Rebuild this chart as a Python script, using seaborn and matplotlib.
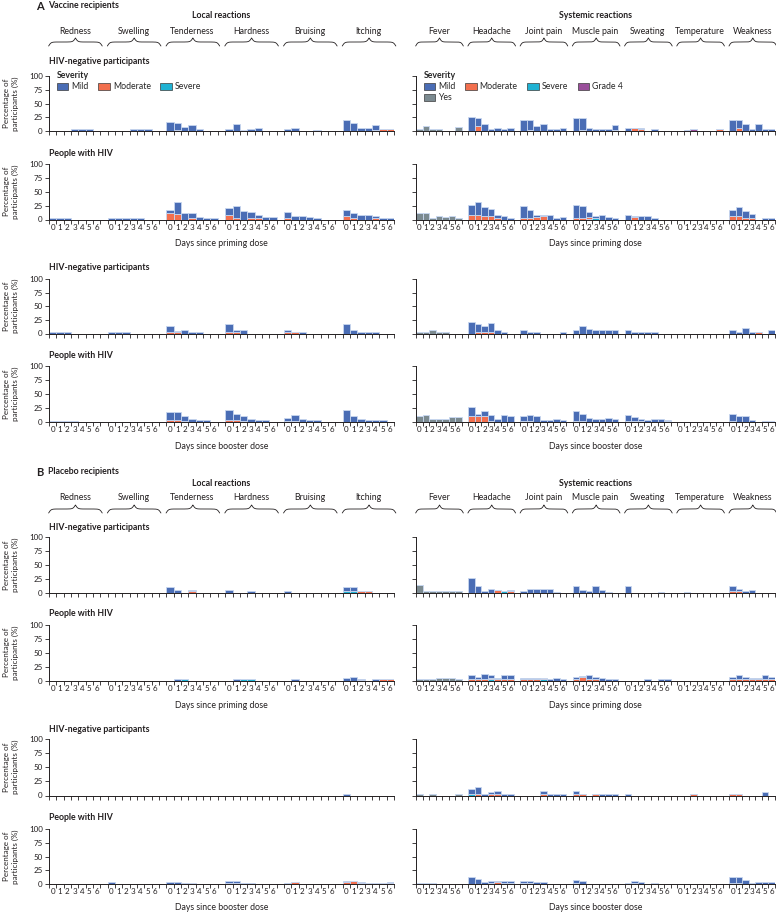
import numpy as np
import pandas as pd
import matplotlib
matplotlib.use("Agg")
import matplotlib.pyplot as plt
import seaborn as sns
from matplotlib.patches import Patch
from matplotlib.transforms import blended_transform_factory

# =========================
# DATA (percentage of participants)
# =========================

local_reactions = ["Redness", "Swelling", "Tenderness", "Hardness", "Bruising", "Itching"]
systemic_reactions = ["Fever", "Headache", "Joint pain", "Muscle pain", "Sweating", "Temperature", "Weakness"]
day_labels = ["0", "1", "2", "3", "4", "5", "6"]

# A - vaccine, HIV-negative, priming dose (totals per day, moderate part, severe / grade 4 cells)
a1_total = {
    "Redness": [0, 0, 0, 3, 3, 3, 0], "Swelling": [0, 0, 0, 3, 3, 3, 0],
    "Tenderness": [17, 14, 7, 11, 4, 0, 0], "Hardness": [3, 13, 2, 3, 6, 0, 0],
    "Bruising": [3, 6, 0, 0, 2, 0, 0], "Itching": [20, 14, 6, 6, 10, 3, 3],
    "Fever": [3, 10, 3, 3, 0, 0, 7], "Headache": [25, 24, 13, 3, 6, 3, 6],
    "Joint pain": [20, 20, 10, 13, 3, 3, 6], "Muscle pain": [24, 24, 6, 3, 3, 3, 10],
    "Sweating": [6, 6, 6, 0, 3, 0, 0], "Temperature": [0, 2, 3, 0, 0, 0, 3],
    "Weakness": [20, 20, 13, 3, 13, 3, 3],
}
a1_moderate = {
    "Tenderness": [0, 2, 0, 0, 0, 0, 0], "Hardness": [0, 0, 2, 0, 0, 0, 0],
    "Itching": [0, 0, 0, 0, 0, 3, 3], "Headache": [0, 9, 0, 0, 0, 0, 0],
    "Joint pain": [0, 2, 0, 0, 0, 0, 0], "Muscle pain": [0, 2, 0, 0, 0, 0, 2],
    "Sweating": [0, 5, 3, 0, 0, 0, 0], "Temperature": [0, 0, 0, 0, 0, 0, 3],
    "Weakness": [0, 6, 0, 0, 0, 0, 0],
}
a1_severe = {("Itching", 4): 2}
a1_grade4 = {("Temperature", 2): 3}

# A - vaccine, people with HIV, priming dose
a2_total = {
    "Redness": [2, 2, 2, 0, 0, 0, 0], "Swelling": [2, 2, 2, 2, 2, 0, 0],
    "Tenderness": [17, 32, 12, 12, 5, 3, 3], "Hardness": [21, 24, 15, 14, 9, 5, 5],
    "Bruising": [14, 7, 7, 5, 2, 0, 0], "Itching": [17, 11, 9, 9, 7, 2, 2],
    "Fever": [12, 12, 3, 6, 5, 6, 3], "Headache": [26, 31, 22, 19, 8, 7, 2],
    "Joint pain": [24, 18, 9, 9, 8, 2, 4], "Muscle pain": [26, 24, 14, 6, 9, 4, 2],
    "Sweating": [9, 6, 6, 6, 2, 0, 0], "Weakness": [17, 22, 16, 10, 0, 2, 2],
}
a2_moderate = {
    "Tenderness": [11, 10, 0, 2, 0, 0, 0], "Hardness": [9, 3, 0, 2, 2, 0, 0],
    "Bruising": [2, 0, 0, 0, 0, 0, 0], "Itching": [6, 3, 0, 0, 2, 0, 0],
    "Headache": [8, 9, 6, 6, 2, 0, 0], "Joint pain": [2, 3, 4, 6, 0, 0, 0],
    "Muscle pain": [2, 3, 3, 0, 0, 0, 0], "Sweating": [0, 4, 0, 0, 0, 0, 0],
    "Weakness": [6, 6, 3, 2, 0, 0, 0],
}
a2_severe = {("Muscle pain", 2): 1, ("Muscle pain", 3): 2}
a2_grade4 = {}

# A - vaccine, HIV-negative, booster dose
a3_total = {
    "Redness": [2, 2, 2, 0, 0, 0, 0], "Swelling": [2, 2, 2, 0, 0, 0, 0],
    "Tenderness": [14, 5, 6, 3, 3, 0, 0], "Hardness": [17, 6, 6, 0, 0, 0, 0],
    "Bruising": [6, 3, 2, 0, 0, 0, 0], "Itching": [17, 6, 3, 3, 3, 0, 0],
    "Fever": [3, 3, 6, 3, 2, 0, 0], "Headache": [21, 17, 13, 19, 6, 3, 0],
    "Joint pain": [6, 2, 2, 0, 0, 0, 2], "Muscle pain": [6, 13, 9, 6, 6, 6, 6],
    "Sweating": [6, 3, 3, 3, 3, 0, 0], "Weakness": [6, 3, 10, 3, 3, 0, 6],
}
a3_moderate = {
    "Tenderness": [2, 2, 0, 0, 0, 0, 0], "Hardness": [2, 3, 0, 0, 0, 0, 0],
    "Bruising": [2, 3, 0, 0, 0, 0, 0], "Headache": [0, 2, 2, 2, 0, 0, 0],
    "Weakness": [0, 0, 0, 0, 3, 0, 0],
}
a3_severe = {}
a3_grade4 = {}

# A - vaccine, people with HIV, booster dose
a4_total = {
    "Redness": [2, 2, 2, 2, 0, 0, 0],
    "Tenderness": [18, 18, 10, 6, 3, 3, 0], "Hardness": [21, 15, 10, 6, 3, 3, 0],
    "Bruising": [8, 12, 6, 4, 3, 0, 0], "Itching": [21, 10, 6, 4, 3, 3, 0],
    "Fever": [10, 12, 6, 6, 6, 9, 9], "Headache": [26, 15, 20, 12, 6, 12, 10],
    "Joint pain": [10, 12, 10, 4, 4, 6, 4], "Muscle pain": [20, 14, 7, 6, 6, 8, 6],
    "Sweating": [12, 9, 5, 3, 5, 5, 3], "Weakness": [14, 10, 10, 3, 0, 2, 2],
}
a4_moderate = {
    "Tenderness": [4, 3, 2, 0, 0, 0, 0], "Hardness": [4, 3, 2, 0, 0, 0, 0],
    "Bruising": [2, 2, 0, 0, 0, 0, 0], "Headache": [10, 10, 10, 2, 0, 0, 0],
    "Joint pain": [2, 2, 0, 0, 0, 0, 0], "Muscle pain": [2, 2, 0, 0, 0, 0, 0],
    "Sweating": [2, 2, 2, 0, 0, 0, 2], "Weakness": [2, 0, 0, 0, 0, 0, 2],
}
a4_severe = {}
a4_grade4 = {}

# B - placebo, HIV-negative, priming dose
b1_total = {
    "Tenderness": [10, 6, 0, 5, 0, 0, 0], "Hardness": [5, 0, 0, 3, 0, 0, 0],
    "Bruising": [3, 0, 0, 0, 0, 0, 0], "Itching": [10, 10, 3, 3, 0, 0, 0],
    "Fever": [14, 3, 3, 3, 3, 3, 3], "Headache": [27, 13, 4, 8, 5, 4, 5],
    "Joint pain": [3, 8, 8, 8, 8, 2, 0], "Muscle pain": [12, 5, 3, 12, 6, 2, 0],
    "Sweating": [12, 0, 0, 0, 0, 2, 0], "Temperature": [0, 2, 0, 0, 0, 0, 0],
    "Weakness": [12, 8, 3, 6, 0, 0, 0],
}
b1_moderate = {
    "Tenderness": [0, 0, 0, 3, 0, 0, 0], "Itching": [0, 0, 3, 3, 0, 0, 0],
    "Headache": [0, 0, 0, 0, 5, 0, 4], "Weakness": [3, 3, 0, 0, 0, 0, 0],
}
b1_severe = {("Itching", 0): 3, ("Itching", 1): 3, ("Headache", 5): 3, ("Temperature", 1): 2}
b1_grade4 = {}

# B - placebo, people with HIV, priming dose
b2_total = {
    "Tenderness": [0, 2, 2, 0, 0, 0, 0], "Hardness": [0, 2, 2, 2, 0, 0, 0],
    "Bruising": [0, 3, 0, 0, 0, 0, 0], "Itching": [5, 6, 3, 0, 2, 2, 2],
    "Fever": [2, 2, 3, 4, 4, 4, 2], "Headache": [10, 7, 12, 10, 5, 10, 10],
    "Joint pain": [5, 5, 4, 4, 3, 5, 3], "Muscle pain": [6, 8, 10, 6, 5, 3, 3],
    "Sweating": [0, 0, 0, 2, 0, 2, 2], "Weakness": [7, 9, 7, 5, 5, 9, 7],
}
b2_moderate = {
    "Itching": [0, 0, 1, 0, 0, 2, 2], "Headache": [2, 2, 2, 3, 2, 2, 2],
    "Joint pain": [2, 2, 2, 2, 0, 0, 0], "Muscle pain": [2, 6, 2, 2, 0, 0, 0],
    "Weakness": [2, 2, 2, 2, 2, 2, 3],
}
b2_severe = {("Tenderness", 2): 2, ("Hardness", 2): 2, ("Hardness", 3): 2,
             ("Headache", 3): 2, ("Joint pain", 3): 2}
b2_grade4 = {}

# B - placebo, HIV-negative, booster dose
b3_total = {
    "Itching": [3, 0, 0, 0, 0, 0, 0],
    "Fever": [2, 0, 2, 0, 0, 0, 2], "Headache": [11, 15, 3, 6, 8, 3, 3],
    "Joint pain": [0, 0, 0, 8, 3, 3, 3], "Muscle pain": [8, 2, 0, 2, 3, 3, 3],
    "Sweating": [2, 0, 0, 0, 0, 0, 0], "Temperature": [0, 0, 2, 0, 0, 0, 0],
    "Weakness": [2, 2, 0, 0, 0, 6, 0],
}
b3_moderate = {
    "Headache": [0, 2, 0, 2, 3, 0, 0], "Joint pain": [0, 0, 0, 3, 0, 0, 0],
    "Muscle pain": [3, 2, 0, 2, 0, 0, 0], "Temperature": [0, 0, 2, 0, 0, 0, 0],
    "Weakness": [2, 2, 0, 0, 0, 0, 0],
}
b3_severe = {("Headache", 0): 2}
b3_grade4 = {}

# B - placebo, people with HIV, booster dose
b4_total = {
    "Swelling": [4, 0, 0, 0, 0, 0, 0],
    "Tenderness": [3, 3, 2, 2, 0, 0, 0], "Hardness": [6, 6, 2, 2, 0, 0, 0],
    "Bruising": [2, 3, 0, 0, 0, 0, 0], "Itching": [6, 6, 3, 2, 2, 2, 4],
    "Fever": [2, 2, 2, 0, 0, 0, 0], "Headache": [12, 10, 3, 6, 5, 6, 6],
    "Joint pain": [6, 6, 3, 3, 0, 0, 0], "Muscle pain": [8, 6, 0, 0, 0, 0, 0],
    "Sweating": [2, 6, 3, 0, 2, 0, 0], "Weakness": [12, 12, 8, 2, 4, 4, 4],
}
b4_moderate = {
    "Tenderness": [0, 0, 0, 2, 0, 0, 0], "Hardness": [2, 2, 0, 0, 0, 0, 0],
    "Bruising": [0, 3, 0, 0, 0, 0, 0], "Itching": [3, 6, 1, 2, 2, 2, 2],
    "Headache": [0, 0, 0, 2, 3, 2, 2], "Joint pain": [2, 2, 0, 0, 0, 0, 0],
    "Muscle pain": [2, 0, 0, 0, 0, 0, 0], "Sweating": [2, 2, 0, 0, 2, 0, 0],
    "Weakness": [2, 2, 0, 0, 0, 0, 0],
}
b4_severe = {}
b4_grade4 = {}

# =========================
# STYLE
# =========================

sns.set_style("white")
plt.rcParams["font.family"] = ["Lato", "DejaVu Sans"]

colors = {
    "Mild": "#4a6db5",
    "Moderate": "#f26f4e",
    "Severe": "#1fb2d3",
    "Grade 4": "#9a4f9b",
    "Yes": "#7b8a90",
}
stack_order = ["Mild", "Yes", "Moderate", "Severe", "Grade 4"]
edge = "#c8d7ef"
ink = "#231f20"

W, H = 776, 914
fig = plt.figure(figsize=(W / 100, H / 100), dpi=100)


def fx(px):
    return px / W


def fy(py):
    return 1 - py / H


def make_axes(x0, x1, top, bottom):
    return fig.add_axes([fx(x0), fy(bottom), (x1 - x0) / W, (bottom - top) / H])


def draw_panel(ax, names, total, moderate, severe, grade4, show_days, show_y):
    recs = []
    for g, name in enumerate(names):
        tot = total.get(name, [0] * 7)
        mod = moderate.get(name, [0] * 7)
        for d in range(7):
            pos = g * 8 + d
            sv = severe.get((name, d), 0)
            g4 = grade4.get((name, d), 0)
            if name == "Fever":
                recs.append((pos, "Yes", tot[d]))
            else:
                recs.append((pos, "Mild", tot[d] - mod[d] - sv - g4))
                recs.append((pos, "Moderate", mod[d]))
                recs.append((pos, "Severe", sv))
                recs.append((pos, "Grade 4", g4))
    df = pd.DataFrame(recs, columns=["pos", "severity", "pct"])
    df = df[df["pct"] > 0]

    if len(df):
        sns.histplot(
            data=df, x="pos", weights="pct", hue="severity",
            hue_order=[h for h in stack_order if h in set(df["severity"])],
            palette=colors, multiple="stack", discrete=True, shrink=1,
            alpha=1, edgecolor=edge, linewidth=0.6, legend=False, ax=ax
        )

    n = len(names) * 8 - 1
    ax.set_xlim(-0.5, n - 0.5)
    ax.set_ylim(0, 100)
    ax.set_xlabel("")
    ax.set_ylabel("")

    ax.set_xticks(np.arange(-0.5, n, 1.0))
    ax.set_xticklabels([])
    centers = [g * 8 + d for g in range(len(names)) for d in range(7)]
    ax.set_xticks(centers, minor=True)
    if show_days:
        ax.set_xticklabels(day_labels * len(names), minor=True)
    else:
        ax.set_xticklabels([], minor=True)
    ax.tick_params(axis="x", which="major", bottom=True, length=3, width=0.6,
                   color=ink, direction="out")
    ax.tick_params(axis="x", which="minor", bottom=True, length=0, pad=3,
                   labelsize=5.8, labelcolor=ink)

    ax.set_yticks([0, 25, 50, 75, 100])
    if show_y:
        ax.set_yticklabels(["0", "25", "50", "75", "100"])
    else:
        ax.set_yticklabels([])
    ax.tick_params(axis="y", left=True, length=3, width=0.6, color=ink, direction="out",
                   pad=1.5, labelsize=5.8, labelcolor=ink)

    sns.despine(ax=ax)
    for side in ["left", "bottom"]:
        ax.spines[side].set_linewidth(0.7)
        ax.spines[side].set_color(ink)
    ax.patch.set_alpha(0)


def draw_brace(ax, center, half_width, y_end, y_tip):
    trans = blended_transform_factory(ax.transData, fig.transFigure)
    t = np.linspace(0, 1, 80)
    b = 22
    s = 1 / (1 + np.exp(-b * t)) + 1 / (1 + np.exp(-b * (t - 1)))
    s = (s - s[0]) / (s[-1] - s[0])
    xs = np.concatenate([center - half_width + t * half_width, center + half_width - t[::-1] * half_width])
    ys = np.concatenate([s, s[::-1]])
    yv = fy(y_end) + (fy(y_tip) - fy(y_end)) * ys
    ax.plot(xs, yv, transform=trans, clip_on=False, color=ink, lw=0.6)


def draw_headers(ax, names, title, title_y, name_y, brace_end, brace_tip):
    trans = blended_transform_factory(ax.transData, fig.transFigure)
    mid = (len(names) * 8 - 2) / 2
    ax.text(mid, fy(title_y), title, transform=trans, ha="center", va="center",
            fontsize=6.3, fontweight="bold", color=ink)
    for g, name in enumerate(names):
        ax.text(g * 8 + 3, fy(name_y), name, transform=trans, ha="center", va="center",
                fontsize=6.3, color=ink)
        draw_brace(ax, g * 8 + 3.1, 3.65, brace_end, brace_tip)


# =========================
# LAYOUT
# =========================

left_x = (49, 394)
right_x = (416, 775)

rows = [
    # data, top px, bottom px, title, title y, day labels
    ((a1_total, a1_moderate, a1_severe, a1_grade4), 76, 131, "HIV-negative participants", 61, False),
    ((a2_total, a2_moderate, a2_severe, a2_grade4), 164, 219.5, "People with HIV", 153, True),
    ((a3_total, a3_moderate, a3_severe, a3_grade4), 279, 333.5, "HIV-negative participants", 267, False),
    ((a4_total, a4_moderate, a4_severe, a4_grade4), 366, 422, "People with HIV", 355, True),
    ((b1_total, b1_moderate, b1_severe, b1_grade4), 537, 593, "HIV-negative participants", 528, False),
    ((b2_total, b2_moderate, b2_severe, b2_grade4), 624.5, 680.5, "People with HIV", 613, True),
    ((b3_total, b3_moderate, b3_severe, b3_grade4), 739, 795.5, "HIV-negative participants", 730, False),
    ((b4_total, b4_moderate, b4_severe, b4_grade4), 829, 884, "People with HIV", 818, True),
]

axes_left = []
axes_right = []
for (data, top, bottom, title, ty, show_days) in rows:
    total, moderate, severe, grade4 = data
    axl = make_axes(left_x[0], left_x[1], top, bottom)
    draw_panel(axl, local_reactions, total, moderate, severe, grade4, show_days, True)
    axr = make_axes(right_x[0], right_x[1], top, bottom)
    draw_panel(axr, systemic_reactions, total, moderate, severe, grade4, show_days, False)
    axes_left.append(axl)
    axes_right.append(axr)

    fig.text(fx(49), fy(ty), title, ha="left", va="center", fontsize=6.3,
             fontweight="bold", color=ink)
    fig.text(fx(11), fy((top + bottom) / 2), "Percentage of\nparticipants (%)",
             rotation=90, ha="center", va="center", fontsize=5.8,
             linespacing=1.25, color=ink)

# x-axis titles
for ax_idx, label, y in [(1, "Days since priming dose", 243), (3, "Days since booster dose", 447),
                          (5, "Days since priming dose", 706), (7, "Days since booster dose", 908)]:
    for ax in (axes_left[ax_idx], axes_right[ax_idx]):
        trans = blended_transform_factory(ax.transAxes, fig.transFigure)
        ax.text(0.5, fy(y), label, transform=trans, ha="center", va="center",
                fontsize=6.3, color=ink)

# panel headers
fig.text(fx(36), fy(6), "A", ha="left", va="center", fontsize=8, fontweight="bold", color=ink)
fig.text(fx(48), fy(6), "Vaccine recipients", ha="left", va="center", fontsize=6.3,
         fontweight="bold", color=ink)
fig.text(fx(36), fy(472), "B", ha="left", va="center", fontsize=8, fontweight="bold", color=ink)
fig.text(fx(48), fy(472), "Placebo recipients", ha="left", va="center", fontsize=6.3,
         fontweight="bold", color=ink)

draw_headers(axes_left[0], local_reactions, "Local reactions", 16, 32, 46, 38)
draw_headers(axes_right[0], systemic_reactions, "Systemic reactions", 16, 32, 46, 38)
draw_headers(axes_left[4], local_reactions, "Local reactions", 483, 498, 513, 505)
draw_headers(axes_right[4], systemic_reactions, "Systemic reactions", 483, 498, 513, 505)

# =========================
# LEGENDS
# =========================


def sev_patch(name):
    return Patch(facecolor=colors[name], edgecolor="#3a3a3a", linewidth=0.5, label=name)


legend_kw = dict(
    title="Severity", loc="upper left", bbox_transform=fig.transFigure, frameon=False,
    fontsize=6.3, title_fontproperties={"weight": "bold", "size": 6.3},
    alignment="left", handlelength=1.3, handleheight=0.85, handletextpad=0.35,
    columnspacing=1.1, borderpad=0, borderaxespad=0, labelspacing=0.25,
)
axes_left[0].legend(handles=[sev_patch(n) for n in ["Mild", "Moderate", "Severe"]],
                    bbox_to_anchor=(fx(57), fy(71)), ncol=3, **legend_kw)
axes_right[0].legend(handles=[sev_patch(n) for n in ["Mild", "Yes", "Moderate", "Severe", "Grade 4"]],
                     bbox_to_anchor=(fx(424), fy(71)), ncol=4, **legend_kw)

plt.savefig("out.png", dpi=100)
